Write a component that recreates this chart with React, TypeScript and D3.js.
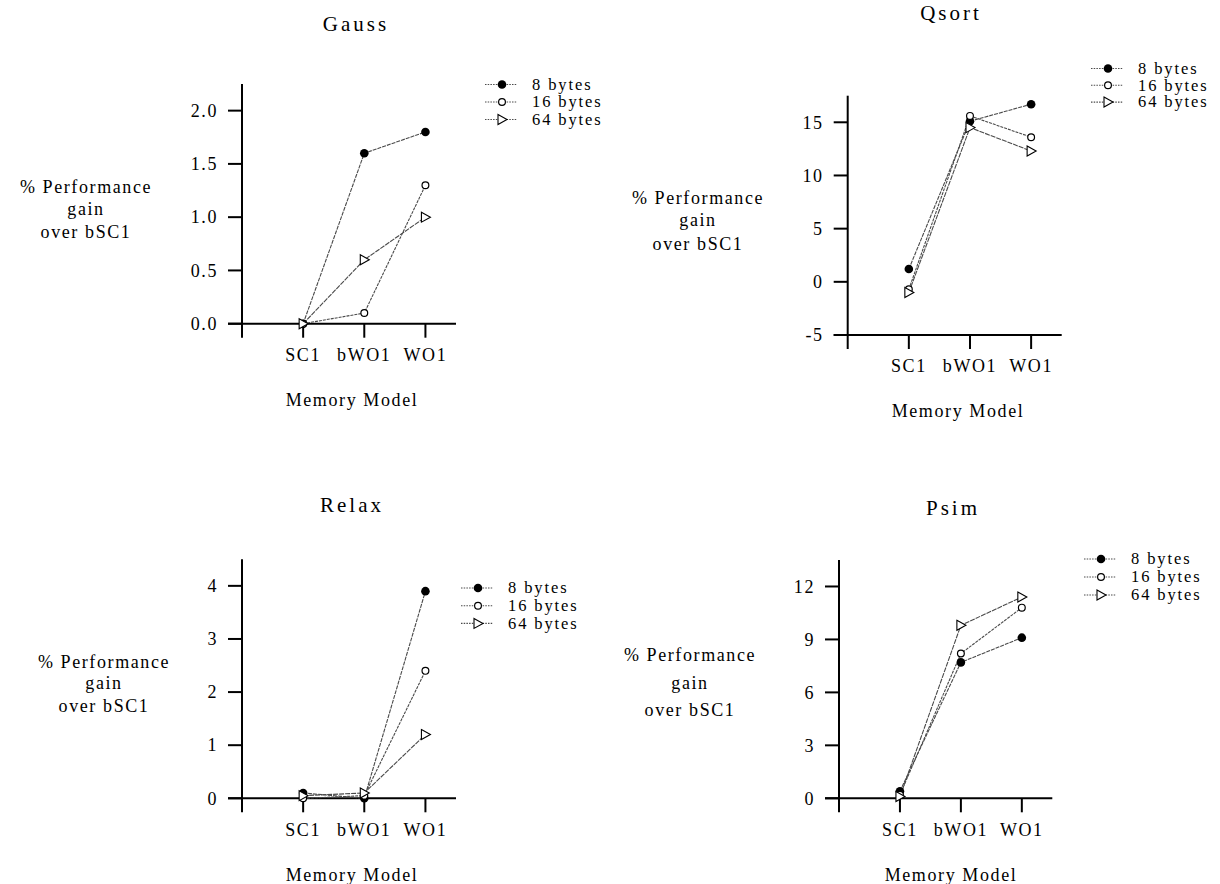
import React from 'react';
import * as d3 from 'd3';

// categories on the x axis (position 1..3, 0 is the axis origin)
const categories = ['SC1', 'bWO1', 'WO1'];
const seriesNames = ['8 bytes', '16 bytes', '64 bytes'];

// values, % gain over bSC1
const gauss8 = [0.0, 1.6, 1.8];
const gauss16 = [0.0, 0.1, 1.3];
const gauss64 = [0.0, 0.6, 1.0];
const gaussTicks = [0, 0.5, 1, 1.5, 2];

const qsort8 = [1.2, 15.1, 16.7];
const qsort16 = [-0.7, 15.6, 13.6];
const qsort64 = [-1.0, 14.5, 12.3];
const qsortTicks = [-5, 0, 5, 10, 15];

const relax8 = [0.1, 0.0, 3.9];
const relax16 = [0.0, 0.05, 2.4];
const relax64 = [0.05, 0.1, 1.2];
const relaxTicks = [0, 1, 2, 3, 4];

const psim8 = [0.4, 7.7, 9.1];
const psim16 = [0.2, 8.2, 10.8];
const psim64 = [0.1, 9.8, 11.4];
const psimTicks = [0, 3, 6, 9, 12];

const FONT = '"Liberation Serif", "Times New Roman", serif';
const LINE = '#4a4a4a';
const FS = 18;
const LS = 1.6;

type Panel = {
  title: string;
  series: number[][];
  ticks: number[];
  fmt: (v: number) => string;
  // layout
  x0: number; x1: number; yBot: number; yTop: number;
  titleX: number; titleY: number;
  memX: number;
  labX: number; labYs: number[];
  legX: number; legY: number; legStep: number;
};

const panels: Panel[] = [
  {
    title: 'Gauss', series: [gauss8, gauss16, gauss64], ticks: gaussTicks, fmt: d3.format('.1f'),
    x0: 242, x1: 456, yBot: 323.7, yTop: 84, titleX: 356, titleY: 31, memX: 352,
    labX: 86, labYs: [187, 209, 232], legX: 502, legY: 84.5, legStep: 17.5,
  },
  {
    title: 'Qsort', series: [qsort8, qsort16, qsort64], ticks: qsortTicks, fmt: (v) => String(v),
    x0: 847.7, x1: 1061.7, yBot: 335, yTop: 95.7, titleX: 951, titleY: 20, memX: 958,
    labX: 698, labYs: [198, 220, 244], legX: 1108, legY: 68.5, legStep: 16.8,
  },
  {
    title: 'Relax', series: [relax8, relax16, relax64], ticks: relaxTicks, fmt: (v) => String(v),
    x0: 242, x1: 456, yBot: 798.3, yTop: 559.3, titleX: 352, titleY: 512, memX: 352,
    labX: 104, labYs: [662, 683, 706], legX: 478, legY: 588, legStep: 17.7,
  },
  {
    title: 'Psim', series: [psim8, psim16, psim64], ticks: psimTicks, fmt: (v) => String(v),
    x0: 839, x1: 1052.3, yBot: 798.3, yTop: 560, titleX: 953, titleY: 515, memX: 951,
    labX: 690, labYs: [655, 683, 710], legX: 1101, legY: 559, legStep: 18,
  },
];

function Marker({ kind, x, y }: { kind: number; x: number; y: number }) {
  if (kind === 0) return <circle cx={x} cy={y} r={4.3} fill="#000" />;
  if (kind === 1) return <circle cx={x} cy={y} r={3.4} fill="#fff" stroke="#000" strokeWidth={1.2} />;
  const p = `M${x - 4},${y - 5}L${x + 5},${y}L${x - 4},${y + 5}Z`;
  return <path d={p} fill="#fff" stroke="#000" strokeWidth={1.1} />;
}

function Chart({ p }: { p: Panel }) {
  const step = p.ticks[1] - p.ticks[0];
  const yMin = p.ticks[0];
  const yMax = p.ticks[p.ticks.length - 1] + step / 2;
  const x = d3.scaleLinear().domain([0, 3.5]).range([p.x0, p.x1]);
  const y = d3.scaleLinear().domain([yMin, yMax]).range([p.yBot, p.yTop]);
  const line = d3.line<number>().x((_, i) => x(i + 1)).y((d) => y(d));
  const tk = 14;

  return (
    <g>
      <text x={p.titleX} y={p.titleY} textAnchor="middle" fontSize={21} letterSpacing={3}>{p.title}</text>

      {/* axes */}
      <line x1={x(0)} x2={x(0)} y1={y(yMax)} y2={y(yMin) + tk} stroke="#000" strokeWidth={2} />
      <line x1={x(0) - tk} x2={x(3.5)} y1={y(yMin)} y2={y(yMin)} stroke="#000" strokeWidth={2} />
      {p.ticks.map((t) => (
        <g key={t}>
          <line x1={x(0) - tk} x2={x(0)} y1={y(t)} y2={y(t)} stroke="#000" strokeWidth={2} />
          <text x={x(0) - tk - 10} y={y(t)} dy="0.35em" textAnchor="end" fontSize={FS} letterSpacing={LS}>{p.fmt(t)}</text>
        </g>
      ))}
      {[1, 2, 3].map((i) => (
        <line key={i} x1={x(i)} x2={x(i)} y1={y(yMin)} y2={y(yMin) + tk} stroke="#000" strokeWidth={2} />
      ))}
      {categories.map((c, i) => (
        <text key={c} x={x(i + 1)} y={y(yMin) + 31} dy="0.35em" textAnchor="middle" fontSize={FS} letterSpacing={LS}>{c}</text>
      ))}
      <text x={p.memX} y={y(yMin) + 76} dy="0.35em" textAnchor="middle" fontSize={FS} letterSpacing={LS}>Memory Model</text>

      {/* y label */}
      {['% Performance', 'gain', 'over bSC1'].map((s, i) => (
        <text key={s} x={p.labX} y={p.labYs[i]} dy="0.35em" textAnchor="middle" fontSize={FS} letterSpacing={LS}>{s}</text>
      ))}

      {/* series */}
      {p.series.map((vals, si) => (
        <path key={'l' + si} d={line(vals) || ''} fill="none" stroke={LINE} strokeWidth={1.1}
          strokeDasharray={si === 0 ? '4,1' : si === 1 ? '3,1' : '5,1'} />
      ))}
      {p.series.map((vals, si) => (
        <g key={'m' + si}>
          {vals.map((v, i) => <Marker key={i} kind={si} x={x(i + 1)} y={y(v)} />)}
        </g>
      ))}

      {/* legend */}
      {seriesNames.map((n, i) => {
        const ly = p.legY + i * p.legStep;
        return (
          <g key={n}>
            <line x1={p.legX - 17} x2={p.legX + 15} y1={ly} y2={ly} stroke={LINE} strokeWidth={1.1} strokeDasharray="1.5,1.2" />
            <Marker kind={i} x={p.legX} y={ly} />
            <text x={p.legX + 30} y={ly} dy="0.32em" fontSize={16.5} letterSpacing={1.9}>{n}</text>
          </g>
        );
      })}
    </g>
  );
}

export default function App() {
  return (
    <svg width={1220} height={884} style={{ position: 'absolute', left: 0, top: 0, background: '#fff', fontFamily: FONT }}
      fill="#000">
      {panels.map((p) => <Chart key={p.title} p={p} />)}
    </svg>
  );
}
